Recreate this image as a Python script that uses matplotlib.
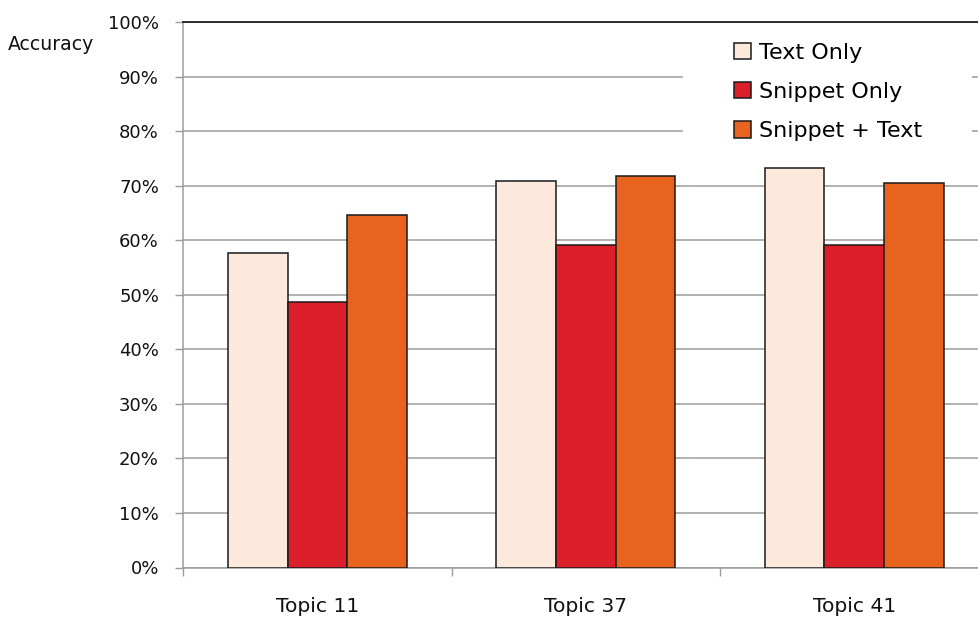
import matplotlib
matplotlib.use("Agg")
import matplotlib.pyplot as plt
import numpy as np
from matplotlib.patches import Rectangle

# Data
topics = ["Topic 11", "Topic 37", "Topic 41"]
series_names = ["Text Only", "Snippet Only", "Snippet + Text"]
text_only = [57.7, 70.9, 73.2]
snippet_only = [48.6, 59.1, 59.1]
snippet_text = [64.7, 71.8, 70.5]
y_ticks = [0, 10, 20, 30, 40, 50, 60, 70, 80, 90, 100]
y_tick_labels = [f"{v}%" for v in y_ticks]

colors = ["#FCE9DC", "#DB1F2A", "#E8641E"]
grid_gray = "#9c9c9c"

fig = plt.figure(figsize=(9.79, 6.19), dpi=100)
# axes extends slightly past the right edge of the canvas
ax = fig.add_axes([183.3 / 979, 1 - 567.5 / 619, 805.2 / 979, 545.5 / 619])

x = np.arange(len(topics))
bw = 0.2224
for i, (vals, col, name) in enumerate(zip([text_only, snippet_only, snippet_text], colors, series_names)):
    ax.bar(x + (i - 1) * bw, vals, width=bw, color=col, edgecolor="#1a1a1a",
           linewidth=1.1, label=name, zorder=3)

ax.set_xlim(-0.5, len(topics) - 0.5)
ax.set_ylim(0, 100)

# y axis
ax.set_yticks(y_ticks)
ax.set_yticklabels(y_tick_labels)
ax.tick_params(axis="y", length=6, width=1.0, color=grid_gray, pad=11.5,
               labelsize=13, labelcolor="#111111")
ax.yaxis.grid(True, color=grid_gray, linewidth=1.1, zorder=0)
ax.set_axisbelow(True)

# x axis: labels centred on groups, tick marks at group boundaries
ax.set_xticks(x)
ax.set_xticklabels(topics)
ax.set_xticks(np.arange(-0.5, len(topics), 1.0), minor=True)
ax.tick_params(axis="x", which="major", length=0, pad=21, labelsize=14.6, labelcolor="#111111")
ax.tick_params(axis="x", which="minor", length=5.5, width=1.0, color=grid_gray)

for side in ["left", "bottom"]:
    ax.spines[side].set_color(grid_gray)
    ax.spines[side].set_linewidth(1.1)
ax.spines["top"].set_color("#111111")
ax.spines["top"].set_linewidth(1.2)
ax.spines["right"].set_visible(False)

# white panel behind the legend
ax.add_patch(Rectangle((0.6206, 0.756), 0.359, 0.242, transform=ax.transAxes,
                       facecolor="white", edgecolor="none", zorder=1))

leg = ax.legend(loc="upper left", bbox_to_anchor=(0.684, 0.962), frameon=False,
                fontsize=16, handlelength=0.77, handleheight=0.77,
                handletextpad=0.33, labelspacing=0.86, borderpad=0, borderaxespad=0)
for h in leg.legend_handles:
    h.set_edgecolor("#1a1a1a")
    h.set_linewidth(1.1)

fig.text(8 / 979, 1 - 44 / 619, "Accuracy", fontsize=13.6, ha="left", va="center", color="#111111")

fig.savefig("out.png", dpi=100)
